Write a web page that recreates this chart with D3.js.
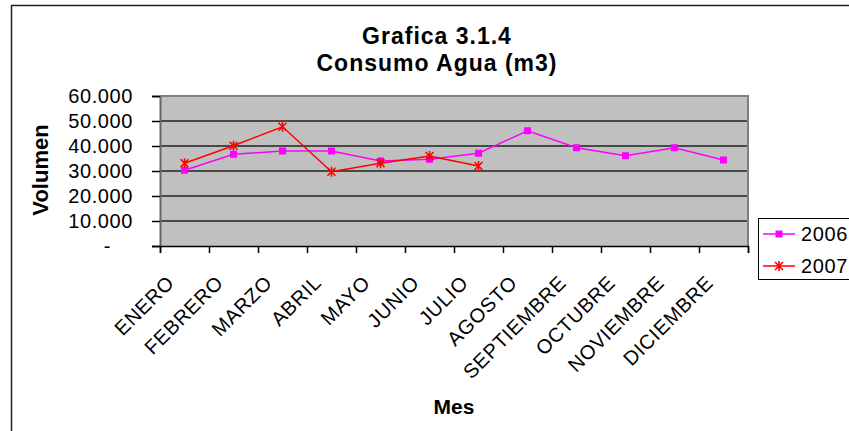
<!DOCTYPE html>
<html>
<head>
<meta charset="utf-8">
<script src="https://cdn.jsdelivr.net/npm/d3@7"></script>
<style>
  body { margin: 0; background: #fff; }
  text { font-family: "Liberation Sans", Arial, sans-serif; fill: #000; }
</style>
</head>
<body>
<script>
// chart data
var meses = ["ENERO", "FEBRERO", "MARZO", "ABRIL", "MAYO", "JUNIO", "JULIO",
  "AGOSTO", "SEPTIEMBRE", "OCTUBRE", "NOVIEMBRE", "DICIEMBRE"];
var v2006 = [30300, 36700, 38000, 38000, 34000, 34700, 37100, 46100, 39300, 36100, 39300, 34400];
var v2007 = [33100, 40100, 47700, 29700, 33100, 36000, 32000];
var yTicks = [0, 10000, 20000, 30000, 40000, 50000, 60000];
var series = [
  {name: "2006", values: v2006, color: "#ff00ff", marker: "square"},
  {name: "2007", values: v2007, color: "#ff0000", marker: "star"}
];

var W = 849, H = 431;
var plot = {left: 160, right: 748, top: 96, bottom: 246};

var svg = d3.select("body").append("svg")
  .attr("width", W)
  .attr("height", H);

// outer chart frame (runs off the picture on right/bottom)
svg.append("rect")
  .attr("x", 11.5).attr("y", 5.5)
  .attr("width", W).attr("height", H)
  .attr("fill", "none").attr("stroke", "#222").attr("stroke-width", 1.5);

var x = d3.scaleBand().domain(meses).range([plot.left, plot.right]).padding(0);
var xEdges = d3.scaleLinear().domain([0, meses.length]).range([plot.left, plot.right]);
var y = d3.scaleLinear().domain([0, 60000]).range([plot.bottom, plot.top]);

var locale = d3.formatLocale({decimal: ",", thousands: ".", grouping: [3], currency: ["", ""]});
var fmt = locale.format(",.0f");

// plot background
svg.append("rect")
  .attr("x", plot.left).attr("y", plot.top)
  .attr("width", plot.right - plot.left).attr("height", plot.bottom - plot.top)
  .attr("fill", "#c0c0c0");

// gridlines
svg.append("g").selectAll("line")
  .data(yTicks.filter(function(d) { return d > 0 && d < 60000; }))
  .enter().append("line")
    .attr("x1", plot.left).attr("x2", plot.right)
    .attr("y1", function(d) { return y(d); }).attr("y2", function(d) { return y(d); })
    .attr("stroke", "#222").attr("stroke-width", 1.5);

// top / right border
svg.append("path")
  .attr("d", "M" + plot.left + "," + y(60000) + "H" + plot.right + "V" + plot.bottom)
  .attr("fill", "none").attr("stroke", "#808080").attr("stroke-width", 2);

// y axis
var yAxis = svg.append("g")
  .attr("transform", "translate(" + plot.left + ",0)")
  .call(d3.axisLeft(y).tickValues(yTicks).tickSize(8).tickPadding(19)
    .tickFormat(function(d) { return d === 0 ? "-" : fmt(d); }));
yAxis.select(".domain").attr("stroke", "#666").attr("stroke-width", 2);
yAxis.selectAll(".tick line").attr("stroke", "#000").attr("stroke-width", 1.5);
yAxis.selectAll("text")
  .style("font-size", "20px")
  .style("letter-spacing", "0.6px")
  .attr("x", function(d) { return d === 0 ? -49 : -27; });

// x axis (ticks on category edges)
var xAxis = svg.append("g")
  .attr("transform", "translate(0," + plot.bottom + ")")
  .call(d3.axisBottom(xEdges).ticks(meses.length).tickSize(7).tickFormat(""));
xAxis.select(".domain").attr("stroke", "#000").attr("stroke-width", 1.5);
xAxis.selectAll(".tick line").attr("stroke", "#000").attr("stroke-width", 1.5);

svg.append("g").selectAll("text")
  .data(meses)
  .enter().append("text")
    .attr("transform", function(d) {
      return "translate(" + (x(d) + x.bandwidth() / 2 - 9) + ",284) rotate(-45)";
    })
    .attr("text-anchor", "end")
    .style("font-size", "20px")
    .style("letter-spacing", "0.7px")
    .text(function(d) { return d; });

// lines + markers
var line = d3.line()
  .x(function(d, i) { return x(meses[i]) + x.bandwidth() / 2; })
  .y(function(d) { return y(d); });

function drawMarker(g, kind, color) {
  if (kind === "square") {
    g.append("rect").attr("x", -3.5).attr("y", -3.5).attr("width", 7).attr("height", 7)
      .attr("fill", color);
  } else {
    g.append("path")
      .attr("d", "M-4,-4L4,4M-4,4L4,-4M0,-5V5")
      .attr("stroke", color).attr("stroke-width", 1.6).attr("fill", "none");
  }
}

series.forEach(function(s) {
  svg.append("path")
    .datum(s.values)
    .attr("d", line)
    .attr("fill", "none")
    .attr("stroke", s.color)
    .attr("stroke-width", 1.5);
  svg.append("g").selectAll("g")
    .data(s.values)
    .enter().append("g")
      .attr("transform", function(d, i) {
        return "translate(" + (x(meses[i]) + x.bandwidth() / 2) + "," + y(d) + ")";
      })
      .each(function() { drawMarker(d3.select(this), s.marker, s.color); });
});

// titles
var title = svg.append("text")
  .attr("text-anchor", "middle")
  .style("font-size", "23px")
  .style("font-weight", "bold")
  .style("letter-spacing", "1px");
title.append("tspan").attr("x", 437).attr("y", 44).text("Grafica 3.1.4");
title.append("tspan").attr("x", 437).attr("y", 71).text("Consumo Agua (m3)");

svg.append("text")
  .attr("transform", "translate(48,170) rotate(-90)")
  .attr("text-anchor", "middle")
  .style("font-size", "22px")
  .style("font-weight", "bold")
  .text("Volumen");

svg.append("text")
  .attr("x", (plot.left + plot.right) / 2).attr("y", 414)
  .attr("text-anchor", "middle")
  .style("font-size", "21px")
  .style("font-weight", "bold")
  .text("Mes");

// legend
var legend = svg.append("g").attr("transform", "translate(758,218)");
legend.append("rect")
  .attr("x", 0.5).attr("y", 0.5).attr("width", 120).attr("height", 61)
  .attr("fill", "#fff").attr("stroke", "#000").attr("stroke-width", 1);
series.forEach(function(s, i) {
  var row = legend.append("g").attr("transform", "translate(0," + (16 + i * 32) + ")");
  row.append("line").attr("x1", 5).attr("x2", 37)
    .attr("stroke", s.color).attr("stroke-width", 1.5);
  drawMarker(row.append("g").attr("transform", "translate(21,0)"), s.marker, s.color);
  row.append("text").attr("x", 43).attr("y", 7)
    .style("font-size", "20px")
    .style("letter-spacing", "0.6px")
    .text(s.name);
});
</script>
</body>
</html>
